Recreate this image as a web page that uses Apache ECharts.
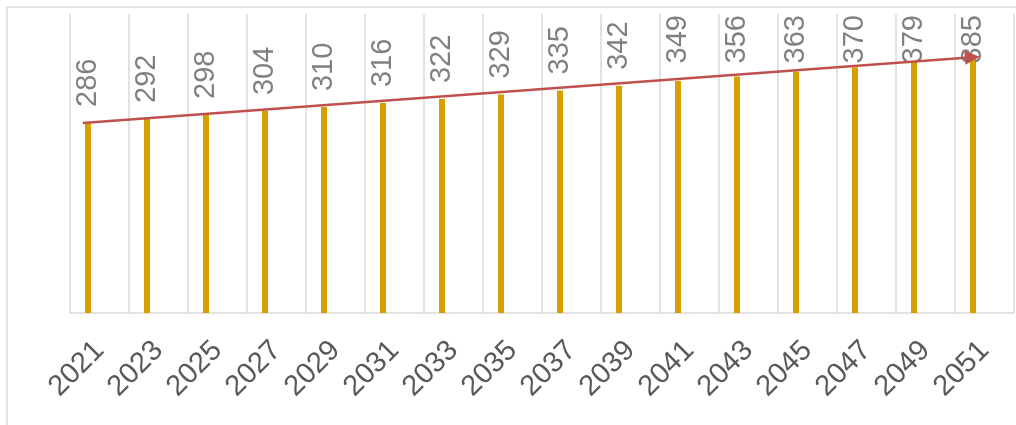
<!DOCTYPE html>
<html>
<head>
<meta charset="utf-8">
<title>chart</title>
<script src="https://cdn.jsdelivr.net/npm/echarts@6/dist/echarts.min.js"></script>
<style>
  html, body { margin: 0; padding: 0; background: #fff; }
  #main { width: 1016px; height: 425px; }
</style>
</head>
<body>
<div id="main"></div>
<script>
// 年份与数值
var years = ["2021", "2023", "2025", "2027", "2029", "2031", "2033", "2035",
  "2037", "2039", "2041", "2043", "2045", "2047", "2049", "2051"];
var values = [286, 292, 298, 304, 310, 316, 322, 329, 335, 342, 349, 356, 363, 370, 379, 385];

var chart = echarts.init(document.getElementById("main"));

var fontFamily = "'Liberation Sans', Arial, sans-serif";
var lastIdx = values.length - 1;

var option = {
  animation: false,
  // 外框
  graphic: [
    {
      type: "rect",
      shape: { x: 7, y: 7, width: 1200, height: 1000 },
      style: { fill: "none", stroke: "#d9d9d9", lineWidth: 1.5 },
      silent: true,
    },
  ],
  grid: [
    { left: 70, right: 2, top: 14, bottom: 112 },
    // 箭头用的辅助坐标系
    { left: 53, right: 14, top: 14, bottom: 112 },
  ],
  xAxis: [
    {
      type: "category",
      data: years,
      gridIndex: 0,
      axisTick: { show: false },
      axisLine: { lineStyle: { color: "#d9d9d9", width: 1.5 } },
      splitLine: { show: true, interval: 0, lineStyle: { color: "#d9d9d9", width: 1.5 } },
      axisLabel: {
        interval: 0,
        rotate: 45,
        margin: 33,
        color: "#595959",
        fontSize: 29,
        fontFamily: fontFamily,
      },
    },
    { type: "category", data: years, gridIndex: 1, show: false },
  ],
  yAxis: [
    { type: "value", min: 0, max: 450, gridIndex: 0, show: false, splitLine: { show: false } },
    { type: "value", min: 0, max: 450, gridIndex: 1, show: false, splitLine: { show: false } },
  ],
  series: [
    {
      name: "数值",
      type: "bar",
      data: values,
      barWidth: 6,
      barGap: "283%",
      itemStyle: { color: "#D5A000" },
      label: {
        show: true,
        position: "top",
        rotate: 90,
        align: "left",
        verticalAlign: "middle",
        distance: 16,
        offset: [2, 0],
        color: "#808080",
        fontSize: 29,
        fontFamily: fontFamily,
      },
      // 标签超出顶部时往下压
      labelLayout: function (p) {
        var top = 15;
        if (p.labelRect.y < top) {
          return { y: top + p.labelRect.height };
        }
      },
    },
    {
      name: "空",
      type: "bar",
      data: [],
      barWidth: 6,
    },
    {
      name: "趋势",
      type: "line",
      xAxisIndex: 1,
      yAxisIndex: 1,
      data: [],
      markLine: {
        silent: true,
        symbol: ["none", "triangle"],
        symbolSize: [14, 15],
        label: { show: false },
        lineStyle: { color: "#C0504D", width: 2.5, type: "solid" },
        data: [
          [
            { coord: [years[0], values[0]] },
            { coord: [years[lastIdx], values[lastIdx]] },
          ],
        ],
      },
    },
  ],
};

chart.setOption(option);

window.addEventListener("resize", function () {
  chart.resize();
});
</script>
</body>
</html>
